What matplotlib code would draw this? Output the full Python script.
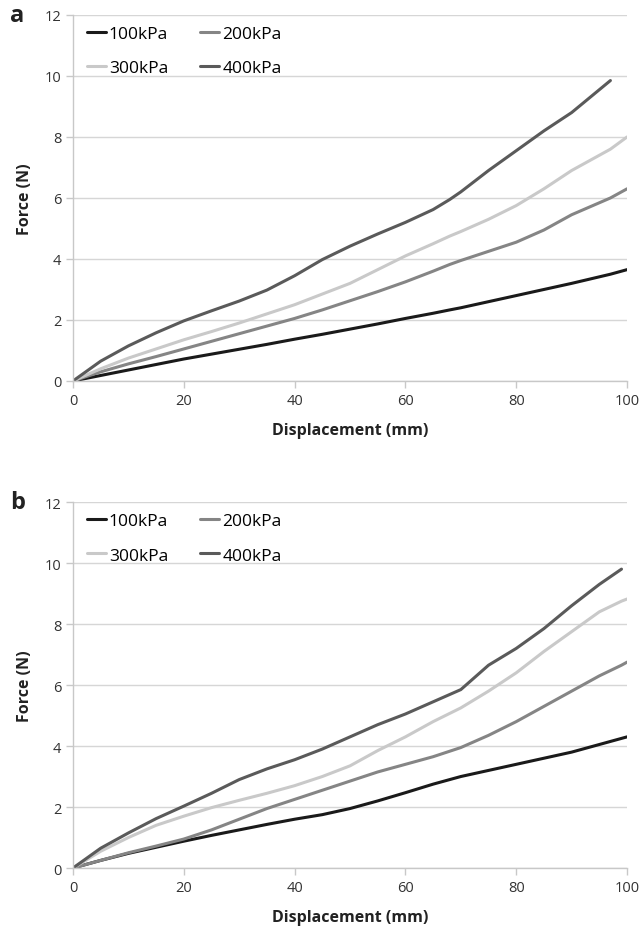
import matplotlib.pyplot as plt

plt.rcParams['font.family'] = ['Open Sans', 'DejaVu Sans']

labels = ['100kPa', '200kPa', '300kPa', '400kPa']
colors = ['#1a1a1a', '#858585', '#c9c9c9', '#5a5a5a']

# panel a
xa = [0, 5, 10, 15, 20, 25, 30, 35, 40, 45, 50, 55, 60, 65, 68, 70, 75, 80, 85, 90, 97, 100]
a100 = [0, 0.18, 0.36, 0.54, 0.72, 0.88, 1.04, 1.2, 1.37, 1.53, 1.7, 1.87, 2.05, 2.22, 2.33, 2.4, 2.6, 2.8, 3.0, 3.2, 3.5, 3.65]
a200 = [0, 0.3, 0.56, 0.8, 1.05, 1.3, 1.55, 1.8, 2.05, 2.33, 2.63, 2.93, 3.25, 3.6, 3.82, 3.95, 4.25, 4.55, 4.95, 5.45, 6.0, 6.3]
a300 = [0, 0.4, 0.75, 1.05, 1.35, 1.62, 1.9, 2.2, 2.5, 2.85, 3.2, 3.65, 4.1, 4.5, 4.75, 4.9, 5.3, 5.75, 6.3, 6.9, 7.6, 8.0]
a400 = [0, 0.65, 1.15, 1.58, 1.97, 2.3, 2.62, 2.98, 3.45, 3.98, 4.42, 4.82, 5.2, 5.62, 5.95, 6.2, 6.9, 7.55, 8.2, 8.8, 9.85, None]

# panel b
xb = [0, 5, 10, 15, 20, 25, 30, 35, 40, 45, 50, 55, 60, 65, 70, 75, 80, 85, 90, 95, 99, 100]
b100 = [0, 0.25, 0.48, 0.68, 0.88, 1.07, 1.25, 1.43, 1.6, 1.75, 1.95, 2.2, 2.47, 2.75, 3.0, 3.2, 3.4, 3.6, 3.8, 4.05, 4.25, 4.3]
b200 = [0, 0.25, 0.5, 0.72, 0.95, 1.25, 1.6, 1.95, 2.25, 2.55, 2.85, 3.15, 3.4, 3.65, 3.95, 4.35, 4.8, 5.3, 5.8, 6.3, 6.65, 6.75]
b300 = [0, 0.55, 1.0, 1.4, 1.7, 1.98, 2.22, 2.45, 2.7, 3.0, 3.35, 3.85, 4.3, 4.8, 5.25, 5.8, 6.4, 7.1, 7.75, 8.4, 8.75, 8.82]
b400 = [0, 0.65, 1.15, 1.62, 2.03, 2.45, 2.9, 3.25, 3.55, 3.9, 4.3, 4.7, 5.05, 5.45, 5.85, 6.65, 7.2, 7.85, 8.6, 9.3, 9.8, None]

fig = plt.figure(figsize=(6.42, 9.45), dpi=100)
ax_a = fig.add_axes([0.1137, 0.5958, 0.863, 0.3873])
ax_b = fig.add_axes([0.1137, 0.0804, 0.863, 0.3873])

panels = [(ax_a, xa, [a100, a200, a300, a400], 'a'),
          (ax_b, xb, [b100, b200, b300, b400], 'b')]

for ax, x, series, letter in panels:
    lines = []
    for ys, lab, c in zip(series, labels, colors):
        pts = [(xi, yi) for xi, yi in zip(x, ys) if yi is not None]
        ln, = ax.plot([p[0] for p in pts], [p[1] for p in pts], color=c, lw=2.2,
                      label=lab, solid_capstyle='round', solid_joinstyle='round')
        lines.append(ln)
    ax.set_xlim(0, 100)
    ax.set_ylim(0, 12)
    ax.set_xticks(range(0, 101, 20))
    ax.set_yticks(range(0, 13, 2))
    ax.grid(axis='y', color='#d6d6d6', lw=1.0)
    ax.set_axisbelow(True)
    for s in ['top', 'right']:
        ax.spines[s].set_visible(False)
    for s in ['left', 'bottom']:
        ax.spines[s].set_color('#c8c8c8')
        ax.spines[s].set_linewidth(1.0)
    ax.tick_params(axis='both', colors='#c8c8c8', labelcolor='#333333',
                   labelsize=10.5, length=5, width=1.0)
    ax.set_xlabel('Displacement (mm)', fontsize=11.5, fontweight='bold',
                  color='#222222', labelpad=10)
    ax.set_ylabel('Force (N)', fontsize=11.5, fontweight='bold',
                  color='#222222', labelpad=8)
    # row-wise order: 100, 200 / 300, 400
    order = [0, 2, 1, 3]
    ax.legend([lines[i] for i in order], [labels[i] for i in order],
              loc='upper left', ncol=2, frameon=False, fontsize=12.5,
              handlelength=1.1, handletextpad=0.17, columnspacing=1.85,
              labelspacing=1.05, borderaxespad=0.0,
              bbox_to_anchor=(0.0125, 0.989))
    ax.text(-0.1, 1.0, letter, transform=ax.transAxes, fontsize=17,
            fontweight='bold', color='#222222', va='center', ha='center')

fig.savefig('out.png', dpi=100)
